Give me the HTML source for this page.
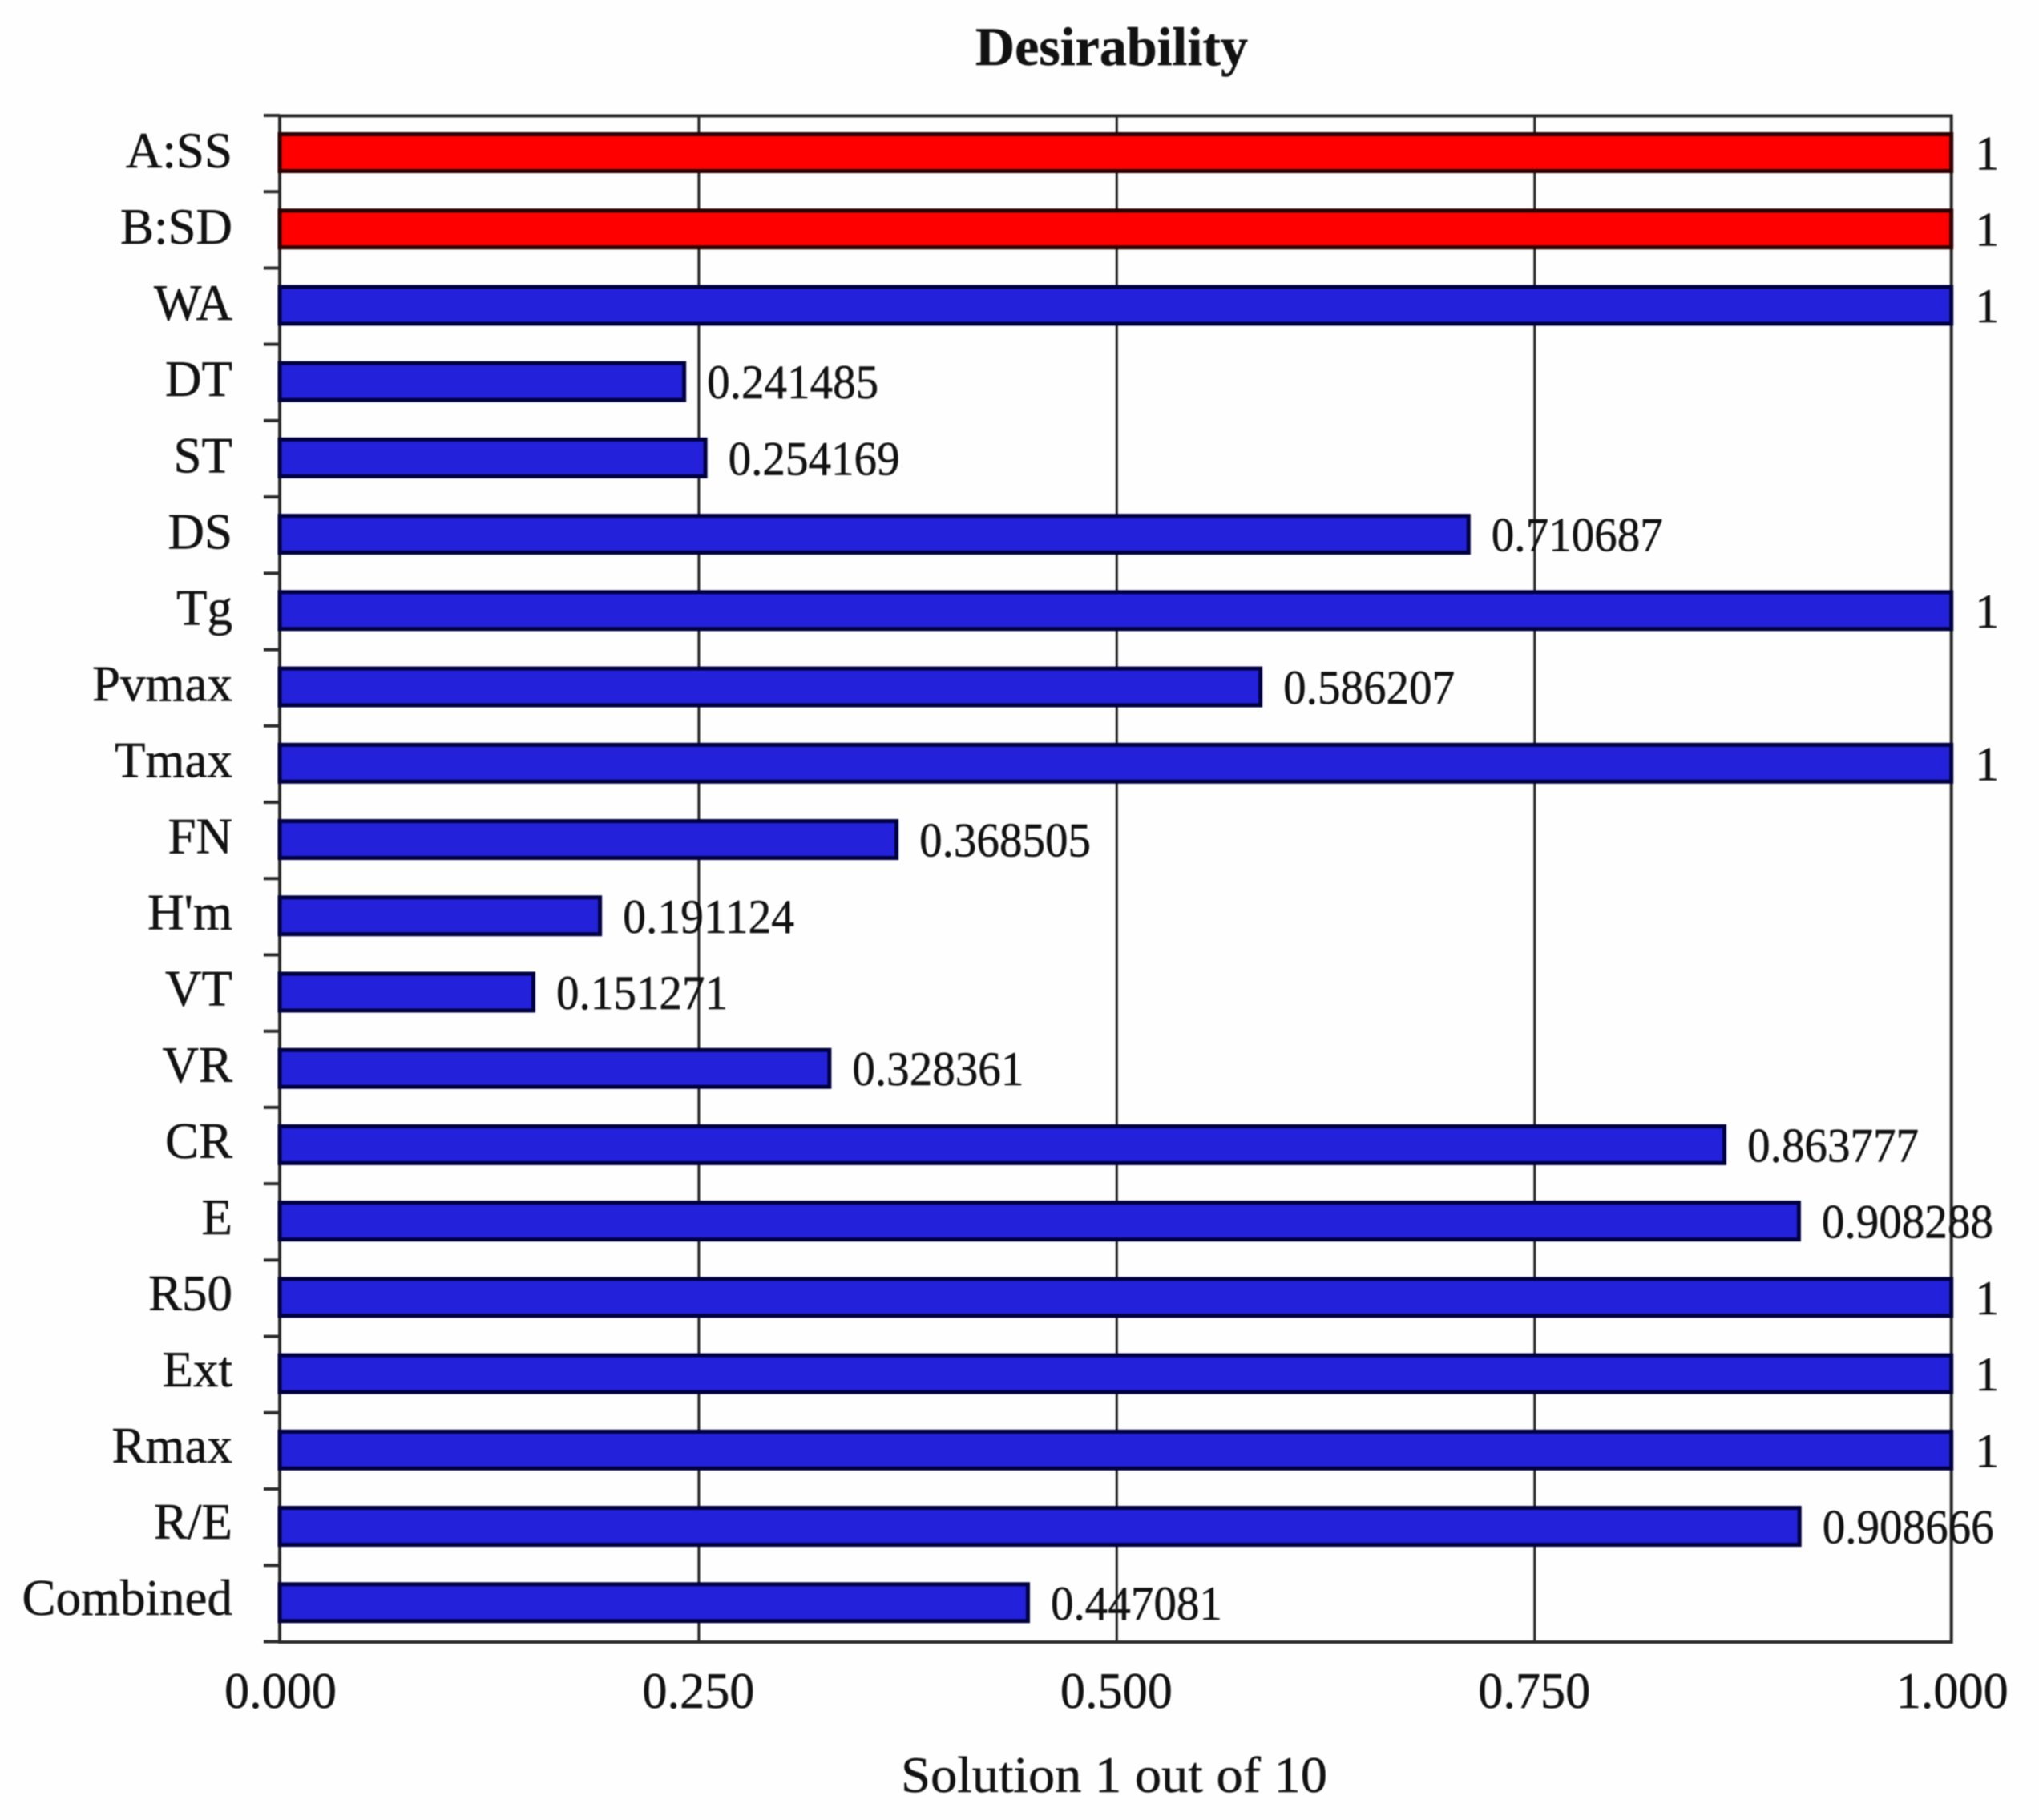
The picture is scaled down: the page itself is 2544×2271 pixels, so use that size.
<!DOCTYPE html>
<html lang="en">
<head>
<meta charset="utf-8">
<title>Desirability</title>
<style>
html,body{margin:0;padding:0;background:#fefefe;}
#chart{display:block;width:2544px;height:2271px;filter:blur(0.7px);}
text{font-family:"Liberation Serif","DejaVu Serif",serif;fill:#111;stroke:#111;stroke-width:0.5px;}
</style>
</head>
<body>
<svg id="chart" xmlns="http://www.w3.org/2000/svg" width="2544" height="2271" viewBox="0 0 2544 2271">
  <rect x="0" y="0" width="2544" height="2271" fill="#fefefe"/>
  <text x="1387" y="81" text-anchor="middle" font-size="68" font-weight="bold" textLength="340" lengthAdjust="spacingAndGlyphs">Desirability</text>
  <text x="1390" y="2236" text-anchor="middle" font-size="64" textLength="532" lengthAdjust="spacingAndGlyphs">Solution 1 out of 10</text>
  <g id="grid"></g>
  <g id="frame"></g>
  <g id="bars"></g>
  <g id="labels"></g>
</svg>
<script>
const categories = ['A:SS','B:SD','WA','DT','ST','DS','Tg','Pvmax','Tmax','FN',"H'm",'VT','VR','CR','E','R50','Ext','Rmax','R/E','Combined'];
const values = [1,1,1,0.241485,0.254169,0.710687,1,0.586207,1,0.368505,0.191124,0.151271,0.328361,0.863777,0.908288,1,1,1,0.908666,0.447081];
const barKinds = ['factor','factor','response','response','response','response','response','response','response','response','response','response','response','response','response','response','response','response','response','combined'];
const xTickValues = [0,0.25,0.5,0.75,1];
const xTickLabels = ['0.000','0.250','0.500','0.750','1.000'];

const SVGNS = 'http://www.w3.org/2000/svg';
const plotLeft = 349, plotRight = 2434.7, plotTop = 144.5, plotBottom = 2049;
const xDomainMax = 1;
function xScale(v){ return plotLeft + (v / xDomainMax) * (plotRight - plotLeft); }
function rowStep(){ return (plotBottom - plotTop) / categories.length; }
function barCenter(i){ return plotTop + 46 + i * rowStep(); }
function labelBaseline(i){ return 209 + i * (rowStep() - 0.16); }
function tickY(i){ return plotTop - 0.5 + i * rowStep(); }
function make(tag, attrs, parent){
  const el = document.createElementNS(SVGNS, tag);
  for (const k in attrs) el.setAttribute(k, attrs[k]);
  parent.appendChild(el);
  return el;
}
const gridG = document.getElementById('grid');
const frameG = document.getElementById('frame');
const barsG = document.getElementById('bars');
const labelsG = document.getElementById('labels');

xTickValues.forEach(function(v, i){
  if (v > 0 && v < xDomainMax) {
    const g = make('line', {x1:xScale(v) + 1.5, x2:xScale(v) + 1.5, y1:plotTop, y2:plotBottom, stroke:'#222', 'stroke-width':3}, gridG);
    
    
  }
  const t = make('text', {x:xScale(v) + 1, y:2131, 'text-anchor':'middle', 'font-size':63, textLength:140, lengthAdjust:'spacingAndGlyphs'}, labelsG);
  t.textContent = xTickLabels[i];
  
  
});

const frame = make('rect', {x:plotLeft, y:plotTop, width:plotRight - plotLeft, height:plotBottom - plotTop, fill:'none', stroke:'#2a2a2a', 'stroke-width':4}, frameG);



for (let i = 0; i <= categories.length; i++) {
  const tk = make('line', {x1:329, x2:plotLeft, y1:tickY(i), y2:tickY(i), stroke:'#2a2a2a', 'stroke-width':4}, frameG);
  
  
}

categories.forEach(function(cat, i){
  const v = values[i];
  const isFactor = barKinds[i] === 'factor';
  const cy = barCenter(i);
  const barEnd = v >= xDomainMax ? xScale(v) : xScale(v) + 1;
  const bar = make('rect', {x:plotLeft, y:cy - 23, width:barEnd - plotLeft, height:46, fill:isFactor ? '#ff0000' : '#2321d9', stroke:isFactor ? '#2a0000' : '#000040', 'stroke-width':5}, barsG);
  
  

  const c = make('text', {x:290, y:labelBaseline(i), 'text-anchor':'end', 'font-size':63}, labelsG);
  c.textContent = cat;
  
  

  const label = String(v);
  const attrs = {x:xScale(v) + 29.5, y:cy + 21, 'font-size':60};
  if (label.length > 1) { attrs.textLength = 214; attrs.lengthAdjust = 'spacingAndGlyphs'; }
  const val = make('text', attrs, labelsG);
  val.textContent = label;
  
  
});
</script>
</body>
</html>
